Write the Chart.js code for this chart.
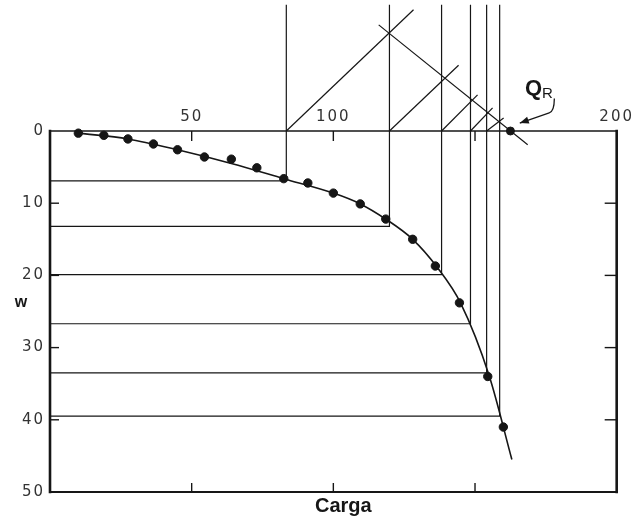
<!DOCTYPE html>
<html>
<head>
<meta charset="utf-8">
<script src="https://cdn.jsdelivr.net/npm/chart.js@4/dist/chart.umd.min.js"></script>
<style>
  html, body { margin: 0; padding: 0; background: #ffffff; }
  #wrap { width: 636px; height: 520px; }
</style>
</head>
<body>
<div id="wrap"><canvas id="c" width="636" height="520"></canvas></div>
<script>
// Pile load test: load (Carga) against settlement (w), with the graphical
// construction for the ultimate load Q_R.

// Measured load steps and settlements
const loads       = [10, 19, 27.5, 36.5, 45, 54.5, 64, 73, 82.5, 91, 100, 109.5, 118.5, 128, 136, 144.5, 154.5, 160];
const settlements = [0.3, 0.6, 1.1, 1.8, 2.6, 3.6, 3.9, 5.1, 6.6, 7.2, 8.6, 10.1, 12.2, 15.0, 18.7, 23.8, 34.0, 41.0];

// Hand-faired load-settlement curve
const curveLoads       = [10, 27.5, 45, 64, 82.5, 100, 109.5, 118.5, 128, 136.5, 145, 155, 163];
const curveSettlements = [0.3, 1.1, 2.6, 4.5, 6.6, 8.6, 10.1, 12.2, 15.0, 18.8, 23.9, 33.9, 45.5];

// Equal settlement levels and the loads where they meet the curve
const levelSettlements = [6.9, 13.2, 19.9, 26.7, 33.5, 39.5];
const levelLoads       = [83.4, 119.8, 138.2, 148.4, 154.1, 158.7];
const verticalTop = -17.5;

// 45-degree lines from each load on the axis, up to their far ends
const diagEndLoads       = [128.3, 144.2, 150.9, 156.2, 160.1];
const diagEndSettlements = [-16.8, -9.1, -5.0, -3.2, -1.8];

// Straight line through the intersections, down to the load axis
const fitLoads       = [116, 168.6];
const fitSettlements = [-14.7, 1.9];
const ultimateLoad = 162.5;

// Axis ticks
const loadTicks = [50, 100, 150, 200];
const loadTickLabels = ['50', '100', '', '200'];
const settlementTicks = [0, 10, 20, 30, 40, 50];

const INK = '#161616';

function seg(points, extra) {
  return Object.assign({
    data: points,
    showLine: true,
    borderColor: INK,
    borderWidth: 1.2,
    pointRadius: 0,
    pointHoverRadius: 0,
    tension: 0,
    clip: false
  }, extra || {});
}

const datasets = [];

// Horizontal level lines turning up at the curve
levelSettlements.forEach((s, i) => {
  datasets.push(seg([
    { x: 0, y: s },
    { x: levelLoads[i], y: s },
    { x: levelLoads[i], y: verticalTop }
  ]));
});

// 45-degree lines
diagEndLoads.forEach((q, i) => {
  datasets.push(seg([
    { x: levelLoads[i], y: 0 },
    { x: q, y: diagEndSettlements[i] }
  ]));
});

// Line through the intersections
datasets.push(seg(fitLoads.map((q, i) => ({ x: q, y: fitSettlements[i] }))));

// Load-settlement curve
datasets.push(seg(curveLoads.map((q, i) => ({ x: q, y: curveSettlements[i] })),
  { borderWidth: 1.6, cubicInterpolationMode: 'monotone' }));

// Readings
datasets.push({
  data: loads.map((q, i) => ({ x: q, y: settlements[i] })),
  showLine: false,
  pointRadius: 4.2,
  pointHoverRadius: 4.2,
  pointBackgroundColor: INK,
  pointBorderColor: INK,
  clip: false
});

// Ultimate load on the axis
datasets.push({
  data: [{ x: ultimateLoad, y: 0 }],
  showLine: false,
  pointRadius: 4,
  pointHoverRadius: 4,
  pointBackgroundColor: INK,
  pointBorderColor: INK,
  clip: false
});

// Wide spacing for the numeric tick labels only
const spacingPlugin = {
  id: 'tickSpacing',
  beforeDraw(chart) { chart.ctx.letterSpacing = '2px'; },
  beforeDatasetsDraw(chart) { chart.ctx.letterSpacing = '0px'; }
};

// Frame, inner tick marks, axis names, Q_R label and its arrow
const framePlugin = {
  id: 'frame',
  afterDatasetsDraw(chart) {
    const { ctx, chartArea: a, scales } = chart;
    const xs = scales.x, ys = scales.y;
    ctx.save();
    ctx.letterSpacing = '0px';
    ctx.strokeStyle = INK;
    ctx.lineCap = 'square';

    ctx.lineWidth = 1.6;
    ctx.beginPath(); ctx.moveTo(a.left, a.top); ctx.lineTo(a.right, a.top); ctx.stroke();
    ctx.lineWidth = 2;
    ctx.beginPath(); ctx.moveTo(a.left, a.bottom); ctx.lineTo(a.right, a.bottom); ctx.stroke();
    ctx.lineWidth = 2.6;
    ctx.beginPath(); ctx.moveTo(a.left, a.top); ctx.lineTo(a.left, a.bottom); ctx.stroke();
    ctx.beginPath(); ctx.moveTo(a.right, a.top); ctx.lineTo(a.right, a.bottom); ctx.stroke();

    ctx.lineWidth = 1.4;
    ctx.lineCap = 'butt';
    settlementTicks.slice(1, -1).forEach(v => {
      const y = ys.getPixelForValue(v);
      ctx.beginPath(); ctx.moveTo(a.left, y); ctx.lineTo(a.left + 9, y); ctx.stroke();
      ctx.beginPath(); ctx.moveTo(a.right, y); ctx.lineTo(a.right - 12, y); ctx.stroke();
    });
    loadTicks.slice(0, -1).forEach(v => {
      const x = xs.getPixelForValue(v);
      ctx.beginPath(); ctx.moveTo(x, a.top); ctx.lineTo(x, a.top + 10); ctx.stroke();
      ctx.beginPath(); ctx.moveTo(x, a.bottom); ctx.lineTo(x, a.bottom - 9); ctx.stroke();
    });

    ctx.fillStyle = INK;

    // axis names
    ctx.font = 'bold 16px "Liberation Sans", Arial, sans-serif';
    ctx.textAlign = 'center';
    ctx.textBaseline = 'middle';
    ctx.fillText('w', a.left - 29, ys.getPixelForValue(23.8));
    ctx.font = 'bold 20px "Liberation Sans", Arial, sans-serif';
    ctx.fillText('Carga', (a.left + a.right) / 2 + 10, a.bottom + 14);

    // Q_R label
    const qx = xs.getPixelForValue(167.6);
    const qy = ys.getPixelForValue(-5.0);
    ctx.textAlign = 'left';
    ctx.textBaseline = 'alphabetic';
    ctx.font = 'bold 22px "Liberation Sans", Arial, sans-serif';
    ctx.fillText('Q', qx, qy);
    const qw = ctx.measureText('Q').width;
    ctx.font = '15px "Liberation Sans", Arial, sans-serif';
    ctx.fillText('R', qx + qw, qy + 3);

    // arrow from the label to the ultimate load
    const p0 = { x: xs.getPixelForValue(178.0), y: ys.getPixelForValue(-4.5) };
    const p1 = { x: xs.getPixelForValue(177.6), y: ys.getPixelForValue(-2.8) };
    const p2 = { x: xs.getPixelForValue(165.8), y: ys.getPixelForValue(-1.1) };
    ctx.lineWidth = 1.3;
    ctx.beginPath();
    ctx.moveTo(p0.x, p0.y);
    ctx.quadraticCurveTo(p1.x + 1, p1.y + 1, p1.x - 4, p1.y + 2);
    ctx.lineTo(p2.x, p2.y);
    ctx.stroke();
    const ang = Math.atan2(p2.y - (p1.y + 2), p2.x - (p1.x - 4));
    const L = 9, W = 3.5;
    ctx.beginPath();
    ctx.moveTo(p2.x, p2.y);
    ctx.lineTo(p2.x - L * Math.cos(ang) + W * Math.sin(ang), p2.y - L * Math.sin(ang) - W * Math.cos(ang));
    ctx.lineTo(p2.x - L * Math.cos(ang) - W * Math.sin(ang), p2.y - L * Math.sin(ang) + W * Math.cos(ang));
    ctx.closePath();
    ctx.fill();
    ctx.restore();
  }
};

const tickFont = { family: '"DejaVu Sans", sans-serif', size: 15 };

new Chart(document.getElementById('c'), {
  type: 'scatter',
  data: { datasets },
  options: {
    responsive: false,
    animation: false,
    events: [],
    layout: { padding: { left: 0, top: 0, right: 19, bottom: 28 } },
    plugins: { legend: { display: false }, tooltip: { enabled: false } },
    scales: {
      x: {
        type: 'linear',
        position: 'top',
        min: 0,
        max: 200,
        afterBuildTicks: s => { s.ticks = loadTicks.map(v => ({ value: v })); },
        afterFit: s => { s.height = 131; },
        ticks: {
          font: tickFont,
          color: '#333',
          padding: 5,
          maxRotation: 0,
          autoSkip: false,
          callback: v => loadTickLabels[loadTicks.indexOf(v)] ?? ''
        },
        grid: { display: false, drawTicks: false },
        border: { display: false }
      },
      y: {
        type: 'linear',
        reverse: true,
        min: 0,
        max: 50,
        afterBuildTicks: s => { s.ticks = settlementTicks.map(v => ({ value: v })); },
        afterFit: s => { s.width = 50; },
        ticks: { font: tickFont, color: '#333', padding: 5, autoSkip: false },
        grid: { display: false, drawTicks: false },
        border: { display: false }
      }
    }
  },
  plugins: [spacingPlugin, framePlugin]
});
</script>
</body>
</html>
